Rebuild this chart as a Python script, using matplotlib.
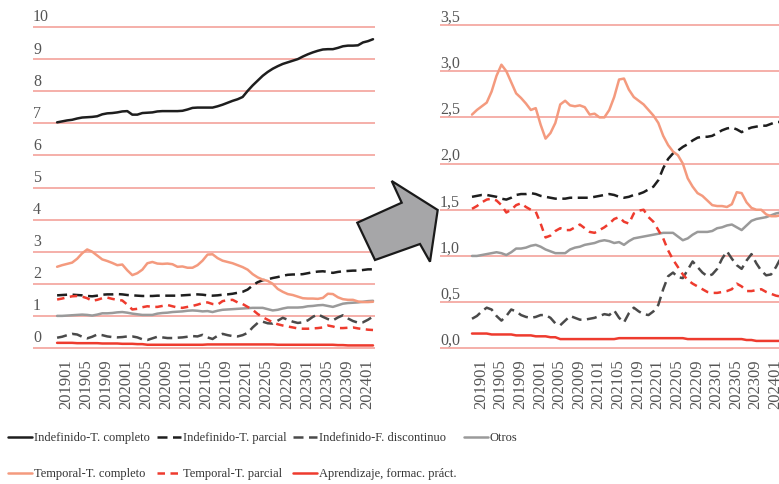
import matplotlib.pyplot as plt
import matplotlib.transforms as mt
from matplotlib.patches import Polygon
import numpy as np

plt.rcParams['font.family'] = ['Liberation Serif', 'DejaVu Serif']

# months 201901 .. 202404
months = [f"{y}{m:02d}" for y in range(2019, 2025) for m in range(1, 13)][:64]
tick_labels = ["201901", "201905", "201909", "202001", "202005", "202009", "202101", "202105",
               "202109", "202201", "202205", "202209", "202301", "202305", "202309", "202401"]

indef_completo = [7.03, 7.06, 7.09, 7.11, 7.15, 7.18, 7.19, 7.20, 7.22, 7.28, 7.31, 7.32, 7.34, 7.37, 7.38, 7.27,
                  7.27, 7.32, 7.33, 7.34, 7.37, 7.38, 7.38, 7.38, 7.38, 7.39, 7.43, 7.48, 7.49, 7.49, 7.49, 7.49,
                  7.53, 7.58, 7.64, 7.70, 7.75, 7.82, 8.01, 8.18, 8.33, 8.48, 8.60, 8.70, 8.78, 8.85, 8.90, 8.95,
                  9.00, 9.08, 9.15, 9.21, 9.26, 9.30, 9.31, 9.31, 9.35, 9.40, 9.42, 9.42, 9.43, 9.52, 9.56, 9.62]
indef_parcial = [1.64, 1.65, 1.66, 1.66, 1.65, 1.64, 1.62, 1.61, 1.63, 1.66, 1.67, 1.67, 1.68, 1.67, 1.65, 1.64,
                 1.63, 1.62, 1.62, 1.62, 1.63, 1.63, 1.63, 1.63, 1.63, 1.64, 1.65, 1.66, 1.67, 1.66, 1.64, 1.63,
                 1.64, 1.66, 1.67, 1.69, 1.72, 1.75, 1.82, 1.95, 2.05, 2.11, 2.14, 2.18, 2.21, 2.25, 2.28, 2.29,
                 2.29, 2.30, 2.33, 2.36, 2.38, 2.39, 2.37, 2.34, 2.37, 2.39, 2.40, 2.41, 2.41, 2.43, 2.45, 2.45]
indef_discontinuo = [0.32, 0.35, 0.40, 0.44, 0.42, 0.35, 0.30, 0.35, 0.42, 0.40, 0.36, 0.34, 0.33, 0.34, 0.36, 0.36,
                     0.33, 0.27, 0.25, 0.30, 0.35, 0.33, 0.31, 0.31, 0.32, 0.33, 0.35, 0.37, 0.36, 0.41, 0.33, 0.28,
                     0.38, 0.44, 0.40, 0.37, 0.36, 0.40, 0.47, 0.64, 0.78, 0.82, 0.77, 0.76, 0.85, 0.94, 0.88, 0.82,
                     0.78, 0.80, 0.86, 0.97, 1.05, 0.97, 0.90, 0.86, 0.95, 1.02, 0.92, 0.84, 0.79, 0.80, 0.88, 0.98]
otros = [1.00, 1.00, 1.01, 1.02, 1.03, 1.04, 1.03, 1.01, 1.04, 1.08, 1.08, 1.09, 1.11, 1.12, 1.10, 1.07,
         1.05, 1.03, 1.03, 1.03, 1.07, 1.09, 1.10, 1.12, 1.13, 1.14, 1.16, 1.17, 1.16, 1.14, 1.15, 1.12,
         1.16, 1.19, 1.20, 1.21, 1.22, 1.23, 1.24, 1.25, 1.25, 1.25, 1.21, 1.17, 1.19, 1.23, 1.26, 1.26,
         1.26, 1.27, 1.30, 1.31, 1.33, 1.34, 1.31, 1.28, 1.33, 1.38, 1.40, 1.41, 1.42, 1.44, 1.46, 1.47]
temp_completo = [2.53, 2.58, 2.62, 2.66, 2.78, 2.95, 3.07, 3.00, 2.88, 2.76, 2.71, 2.65, 2.58, 2.60, 2.42, 2.27,
                 2.33, 2.44, 2.64, 2.68, 2.63, 2.62, 2.63, 2.61, 2.53, 2.54, 2.50, 2.50, 2.58, 2.72, 2.91, 2.92,
                 2.80, 2.72, 2.68, 2.64, 2.58, 2.52, 2.44, 2.30, 2.20, 2.13, 2.09, 2.00, 1.84, 1.75, 1.68, 1.65,
                 1.60, 1.55, 1.54, 1.54, 1.53, 1.56, 1.69, 1.68, 1.58, 1.52, 1.50, 1.50, 1.45, 1.43, 1.43, 1.44]
temp_parcial = [1.51, 1.54, 1.58, 1.61, 1.62, 1.60, 1.55, 1.47, 1.50, 1.55, 1.57, 1.53, 1.50, 1.48, 1.35, 1.20,
                1.22, 1.27, 1.30, 1.28, 1.28, 1.31, 1.34, 1.30, 1.26, 1.25, 1.28, 1.31, 1.35, 1.40, 1.42, 1.37,
                1.35, 1.46, 1.49, 1.50, 1.42, 1.37, 1.28, 1.19, 1.06, 0.96, 0.88, 0.80, 0.74, 0.70, 0.67, 0.64,
                0.61, 0.60, 0.60, 0.61, 0.62, 0.64, 0.70, 0.67, 0.62, 0.62, 0.63, 0.64, 0.61, 0.59, 0.57, 0.56]
aprendizaje = [0.16, 0.16, 0.16, 0.16, 0.15, 0.15, 0.15, 0.15, 0.15, 0.14, 0.14, 0.14, 0.14, 0.13, 0.13, 0.13,
               0.12, 0.12, 0.10, 0.10, 0.10, 0.10, 0.10, 0.10, 0.10, 0.10, 0.10, 0.10, 0.10, 0.10, 0.11, 0.11,
               0.11, 0.11, 0.11, 0.11, 0.11, 0.11, 0.11, 0.11, 0.11, 0.11, 0.11, 0.11, 0.10, 0.10, 0.10, 0.10,
               0.10, 0.10, 0.10, 0.10, 0.10, 0.10, 0.10, 0.10, 0.09, 0.09, 0.08, 0.08, 0.08, 0.08, 0.08, 0.08]

series = [
    ("Indefinido-T. completo", indef_completo, "#1e1e1e", "-"),
    ("Indefinido-T. parcial", indef_parcial, "#1e1e1e", (0, (4, 2.2))),
    ("Indefinido-F. discontinuo", indef_discontinuo, "#4a4a4a", (0, (4, 2.2))),
    ("Otros", otros, "#9a9a9a", "-"),
    ("Temporal-T. completo", temp_completo, "#f49a7e", "-"),
    ("Temporal-T. parcial", temp_parcial, "#ee3b2e", (0, (3, 2.2))),
    ("Aprendizaje, formac. práct.", aprendizaje, "#ee3b2e", "-"),
]

x = np.arange(len(months))
grid_col = "#f5a9a2"
lab_col = "#555555"

fig = plt.figure(figsize=(7.79, 4.84), dpi=100)
ax1 = fig.add_axes([0.0424, 0.2744, 0.439, 0.6764])
ax2 = fig.add_axes([0.565, 0.2746, 0.45, 0.6795])

def style(ax, yticks, ylabels, ylim, xlim, ybase):
    handles = []
    for name, vals, col, ls in series:
        h, = ax.plot(x, vals, color=col, ls=ls, lw=1.8, label=name, solid_capstyle='round')
        handles.append(h)
    ax.set_ylim(*ylim)
    ax.set_xlim(*xlim)
    for s in ax.spines.values():
        s.set_visible(False)
    for t in yticks:
        ax.axhline(t, color=grid_col, lw=1.3, zorder=0)
    ax.set_yticks([])
    for t, l in zip(yticks, ylabels):
        ax.annotate(l, xy=(0, t), xycoords=('axes fraction', 'data'), xytext=(0, ybase),
                    textcoords='offset points', va='baseline', ha='left', fontsize=11.5, color=lab_col)
    pos = [months.index(t) for t in tick_labels]
    ax.set_xticks(pos)
    ax.set_xticklabels(tick_labels, rotation=90, fontsize=12, color=lab_col, va='top', ha='center')
    ax.tick_params(axis='x', length=0, pad=6)
    off = mt.ScaledTranslation(6.5 / 72, 0, fig.dpi_scale_trans)
    for lb in ax.get_xticklabels():
        lb.set_transform(lb.get_transform() + off)
    return handles

h = style(ax1, list(range(0, 11)), [str(i) for i in range(0, 11)], (-0.1, 10.1), (-4.8, 63.4), 4)
yt2 = [0, 0.5, 1.0, 1.5, 2.0, 2.5, 3.0, 3.5]
style(ax2, yt2, [f"{v:.1f}".replace(".", ",") for v in yt2], (-0.03, 3.53), (-6.5, 65), 2.5)

# arrow between panels
pts = [(357.3, 222.7), (401.7, 202.7), (391.7, 181), (437.7, 210), (430, 261.7), (420, 244), (375, 260)]
arrow = Polygon([(px / 779, 1 - py / 484) for px, py in pts], closed=True, transform=fig.transFigure,
                facecolor="#a6a6a8", edgecolor="#1a1a1a", lw=1.6, zorder=10)
fig.patches.append(arrow)

order = [0, 4, 1, 5, 2, 6, 3]
fig.legend([h[i] for i in order], [series[i][0] for i in order], ncol=4, loc='upper left',
           bbox_to_anchor=(8 / 779, 1 - 432 / 484), frameon=False, fontsize=9,
           handlelength=1.92, handletextpad=0.16, columnspacing=0.55, labelspacing=1.95,
           borderpad=0, borderaxespad=0, labelcolor="#333333")

fig.savefig("out.png", dpi=100)
